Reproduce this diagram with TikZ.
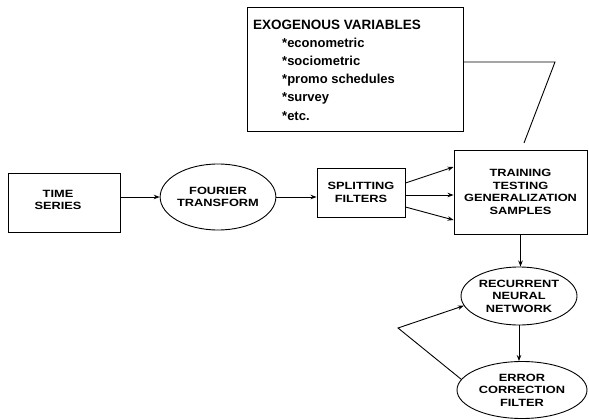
\documentclass[tikz,border=0pt]{standalone}
\usepackage{fontspec}
\setmainfont{Liberation Sans}
\newfontfamily\nf{Liberation Sans}[FakeStretch=1.22]
\usetikzlibrary{shapes.geometric,arrows.meta}
\begin{document}
\begin{tikzpicture}[x=1pt,y=-1pt,
  box/.style={draw,line width=0.9pt,rectangle,inner sep=0pt,align=center,font=\nf\bfseries\fontsize{10.5}{12.5}\selectfont},
  ell/.style={draw,line width=0.9pt,ellipse,inner sep=0pt,align=center,font=\nf\bfseries\fontsize{10.5}{12.5}\selectfont},
  arr/.style={line width=0.9pt,-{Stealth[length=6pt,width=4.5pt]}},
  ln/.style={line width=0.9pt},
  lbl/.style={anchor=base west,inner sep=0pt,font=\bfseries\fontsize{13}{15}\selectfont}]
\useasboundingbox (0,0) rectangle (589,420);
% exogenous box
\node[draw,line width=0.9pt,minimum width=216pt,minimum height=124pt,inner sep=0pt] (exo) at (355,69) {};
\node[lbl,font=\bfseries\fontsize{13.5}{15}\selectfont] (t0) at (253,30) {EXOGENOUS VARIABLES};
\node[lbl] (t1) at (282,48) {*econometric};
\node[lbl] (t2) at (282,66) {*sociometric};
\node[lbl] (t3) at (282,84) {*promo schedules};
\node[lbl] (t4) at (282,102) {*survey};
\node[lbl] (t5) at (282,120) {*etc.};
% main nodes
\node[box,minimum width=112pt,minimum height=59pt] (ts) at (64,202.5) {};
\node[align=center,inner sep=0pt,font=\nf\bfseries\fontsize{10.5}{12.5}\selectfont] (tst) at (58,200) {TIME\\SERIES};
\node[ell,minimum width=111pt,minimum height=66pt] (ft) at (218,197) {FOURIER\\TRANSFORM};
\node[box,minimum width=88pt,minimum height=49pt] (sf) at (361,192.5) {SPLITTING\\FILTERS};
\node[box,minimum width=133pt,minimum height=84pt] (tr) at (520.5,192) {TRAINING\\TESTING\\GENERALIZATION\\SAMPLES};
\node[ell,minimum width=116pt,minimum height=58pt] (rnn) at (519,296) {RECURRENT\\NEURAL\\NETWORK};
\node[ell,minimum width=130pt,minimum height=57pt] (ecf) at (522,390) {ERROR\\CORRECTION\\FILTER};
% connectors
\draw[arr] (ts.east |- ft.west) -- (ft.west);
\draw[arr] (ft.east) -- (sf.west |- ft.east);
\draw[arr] (sf.east |- 0,183) -- (tr.west |- 0,167);
\draw[arr] (sf.east |- 0,195) -- (tr.west |- 0,195);
\draw[arr] (sf.east |- 0,207) -- (tr.west |- 0,220);
\draw[arr] (tr.south) -- (tr.south |- rnn.north);
\draw[arr] (rnn.south) -- (rnn.south |- ecf.north);
\coordinate (fb) at (398,328);
\draw[arr] (ecf.170) -- (fb) -- (rnn.190);
\coordinate (e1) at (555,62);
\coordinate (e2) at (524,143);
\draw[ln] (exo.east |- e1) -- (e1) -- (e2);
\end{tikzpicture}
\end{document}
